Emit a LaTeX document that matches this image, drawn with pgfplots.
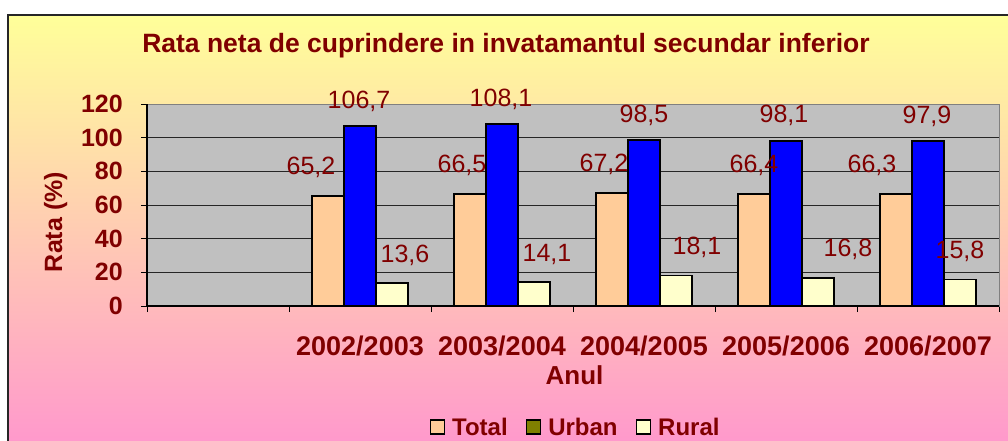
\documentclass[border=0pt]{standalone}
\usepackage{pgfplots}
\pgfplotsset{compat=1.18}
\usepackage{pgfplotstable}
\usepackage{fontspec}
\setmainfont{Liberation Sans}
\definecolor{darkred}{RGB}{128,0,0}
\definecolor{plotbg}{RGB}{192,192,192}
\definecolor{totalc}{RGB}{255,204,153}
\definecolor{urbanc}{RGB}{0,0,255}
\definecolor{ruralc}{RGB}{255,255,204}
\definecolor{legolive}{RGB}{128,128,0}
\definecolor{topc}{RGB}{255,255,153}
\definecolor{botc}{RGB}{255,153,204}

\pgfplotstableread{
x total urban rural dxt dxu dxr
1 65.2 106.7 13.6 -17 -1 13
2 66.5 108.1 14.1 -8 -1 13
3 67.2 98.5 18.1 -8 0 21
4 66.4 98.1 16.8 0 -2 30
5 66.3 97.9 15.8 -24 -1 0
}\data

\begin{document}
\begin{tikzpicture}[x=1pt,y=1pt]
\fill[white] (0,0) rectangle (1008,440);
\shade[top color=topc, bottom color=botc] (8,425) rectangle (1012,-2);
\draw[black!85, line width=1.2pt] (8,-2) -- (8,425) -- (1012,425);

\node[anchor=base, font=\bfseries\fontsize{26.5}{31}\selectfont, text=darkred] at (506,387) {Rata neta de cuprindere in invatamantul secundar inferior};
\node[anchor=base, rotate=90, font=\bfseries\fontsize{25}{30}\selectfont, text=darkred] at (62,218) {Rata (\%)};
\node[anchor=base, font=\bfseries\fontsize{26}{30}\selectfont, text=darkred] at (574.5,56) {Anul};

\begin{axis}[
  at={(147pt,134pt)}, anchor=south west,
  scale only axis, width=852pt, height=202pt,
  xmin=-0.5, xmax=5.5, ymin=0, ymax=120,
  clip=false,
  /pgf/number format/assume math mode=true,
  axis background/.style={fill=plotbg},
  axis line style={draw=black!50, line width=1pt},
  ybar=0pt, bar width=32pt,
  ytick={0,20,...,120}, ytick pos=left,
  xtick={-0.5,0.5,...,5.5}, xticklabels={}, xtick pos=bottom,
  extra x ticks={1,2,3,4,5},
  extra x tick labels={2002/2003,2003/2004,2004/2005,2005/2006,2006/2007},
  extra x tick style={major tick length=0pt, xticklabel style={inner sep=0pt, anchor=base, yshift=-49pt, font=\bfseries\fontsize{27}{31}\selectfont}},
  tick align=outside, major tick length=6pt,
  tick style={black, line width=1pt},
  ymajorgrids, grid style={black!85, line width=1pt},
  ticklabel style={font=\bfseries\fontsize{25}{30}\selectfont, text=darkred},
  yticklabel style={inner sep=0pt, xshift=-18pt},
  legend columns=3,
  legend style={draw=none, fill=none, at={(0.503,-0.6)}, anchor=center,
    font=\bfseries\fontsize{24}{28}\selectfont, text=darkred,
    /tikz/every even column/.append style={column sep=16pt},
    /tikz/every odd column/.append style={column sep=5pt}},
  legend cell align=left,
  legend image code/.code={\draw[#1, line width=1.6pt] (0pt,-7pt) rectangle (14pt,7pt);},
  nodes near coords={\pgfmathprintnumber[fixed,fixed zerofill,precision=1,use comma]{\pgfplotspointmeta}},
  every node near coord/.append style={font=\fontsize{25}{29}\selectfont, text=darkred, anchor=center},
]
\addplot[fill=totalc, draw=black, line width=1.8pt,
  visualization depends on={\thisrow{dxt}\as\dxv},
  every node near coord/.append style={xshift=\dxv, yshift=29pt}]
  table[x=x,y=total] {\data};
\addplot[fill=urbanc, draw=black, line width=1.8pt,
  legend image code/.code={\draw[fill=legolive, draw=black, line width=1.6pt] (0pt,-7pt) rectangle (14pt,7pt);},
  visualization depends on={\thisrow{dxu}\as\dxv},
  every node near coord/.append style={xshift=\dxv, yshift=25pt}]
  table[x=x,y=urban] {\data};
\addplot[fill=ruralc, draw=black, line width=1.8pt,
  visualization depends on={\thisrow{dxr}\as\dxv},
  every node near coord/.append style={xshift=\dxv, yshift=28pt}]
  table[x=x,y=rural] {\data};
\legend{Total,Urban,Rural}
\draw[black, line width=1.5pt] (rel axis cs:0,1) -- (rel axis cs:0,0) -- (rel axis cs:1,0);
\end{axis}
\pgfresetboundingbox
\useasboundingbox (0,0) rectangle (1008,440);
\end{tikzpicture}
\end{document}
